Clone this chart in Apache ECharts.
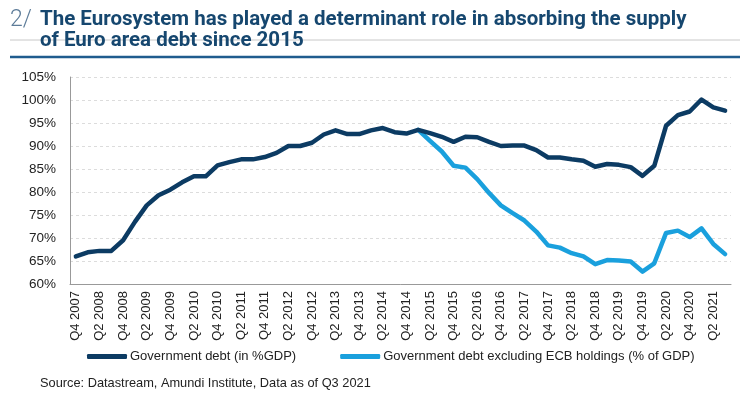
<!DOCTYPE html>
<html>
<head>
<meta charset="utf-8">
<script src="https://cdn.jsdelivr.net/npm/echarts@6/dist/echarts.min.js"></script>
<style>html,body{margin:0;padding:0;background:#fff;}#c{width:750px;height:402px;}</style>
</head>
<body>
<div id="c"></div>
<script>
var categories = ["Q4 2007","Q1 2008","Q2 2008","Q3 2008","Q4 2008","Q1 2009","Q2 2009","Q3 2009","Q4 2009","Q1 2010","Q2 2010","Q3 2010","Q4 2010","Q1 2011","Q2 2011","Q3 2011","Q4 2011","Q1 2012","Q2 2012","Q3 2012","Q4 2012","Q1 2013","Q2 2013","Q3 2013","Q4 2013","Q1 2014","Q2 2014","Q3 2014","Q4 2014","Q1 2015","Q2 2015","Q3 2015","Q4 2015","Q1 2016","Q2 2016","Q3 2016","Q4 2016","Q1 2017","Q2 2017","Q3 2017","Q4 2017","Q1 2018","Q2 2018","Q3 2018","Q4 2018","Q1 2019","Q2 2019","Q3 2019","Q4 2019","Q1 2020","Q2 2020","Q3 2020","Q4 2020","Q1 2021","Q2 2021","Q3 2021"];
var govDebt = [66.0,66.9,67.2,67.2,69.5,73.5,77.1,79.3,80.5,82.1,83.4,83.4,85.8,86.5,87.1,87.1,87.6,88.5,90.0,90.0,90.7,92.5,93.4,92.6,92.6,93.4,93.9,93.0,92.7,93.5,92.8,92.0,90.9,92.0,91.9,90.9,90.0,90.1,90.1,89.1,87.5,87.5,87.1,86.8,85.5,86.1,85.9,85.4,83.5,85.7,94.4,96.7,97.5,100.1,98.4,97.7];
var govDebtExEcb = [null,null,null,null,null,null,null,null,null,null,null,null,null,null,null,null,null,null,null,null,null,null,null,null,null,null,null,null,null,93.5,91.1,88.8,85.7,85.3,82.8,79.8,77.1,75.4,73.8,71.4,68.4,67.9,66.7,66.0,64.3,65.2,65.1,64.9,62.7,64.5,71.1,71.6,70.2,72.1,68.7,66.5];
var seriesNames = ["Government debt (in %GDP)","Government debt excluding ECB holdings (% of GDP)"];
var titleNumber = "2/";
var titleLines = ["The Eurosystem has played a determinant role in absorbing the supply","of Euro area debt since 2015"];
var sourceText = "Source: Datastream, Amundi Institute, Data as of Q3 2021";

var FONT = "'Liberation Sans',Arial,sans-serif";
var chart = echarts.init(document.getElementById('c'), null, {renderer:'canvas'});
chart.setOption({
  animation:false,
  backgroundColor:'#ffffff',
  graphic:[
    {type:'line', shape:{x1:10,y1:40,x2:740,y2:40}, style:{stroke:'#c8c8c8',lineWidth:1}, z:1},
    {type:'line', shape:{x1:10,y1:57,x2:740,y2:57}, style:{stroke:'#1f5c8e',lineWidth:2.5}, z:1},
    {type:'text', x:10, y:9, z:5, style:{text:titleNumber, font:'300 23px Roboto', fill:'#5d7c99'}},
    {type:'text', x:40, y:10, z:5, scaleX:1.025, style:{text:titleLines[0], font:'bold 20px Roboto', fill:'#16476f'}},
    {type:'text', x:40, y:31, z:5, scaleX:1.025, style:{text:titleLines[1], font:'bold 20px Roboto', fill:'#16476f'}},
    {type:'text', x:40, y:377, z:5, style:{text:sourceText, font:'12.8px '+FONT, fill:'#222'}}
  ],
  legend:{
    left:87, top:350, width:700, padding:0, itemWidth:40, itemHeight:5, itemGap:44,
    icon:'roundRect',
    textStyle:{fontFamily:FONT, fontSize:13, color:'#222', padding:[0,0,0,-2]},
    data:seriesNames
  },
  grid:{left:70, right:19, top:77, bottom:118, containLabel:false},
  xAxis:{
    type:'category', data:categories, boundaryGap:true,
    axisLine:{lineStyle:{color:'#999',width:1}},
    axisTick:{interval:3, length:5, lineStyle:{color:'#999'}},
    axisLabel:{interval:1, rotate:90, fontFamily:FONT, fontSize:13, color:'#222', margin:7}
  },
  yAxis:{
    type:'value', min:60, max:105, interval:5,
    axisLine:{show:true, lineStyle:{color:'#999'}},
    axisTick:{show:false},
    axisLabel:{formatter:'{value}%', fontFamily:FONT, fontSize:13.5, color:'#222', margin:14},
    splitLine:{lineStyle:{color:'#dcdcdc', type:[3,3], width:1}}
  },
  series:[
    {name:seriesNames[0], type:'line', data:govDebt, symbol:'none', lineStyle:{width:4.5, color:'#0c3b63', join:'round', cap:'round'}, itemStyle:{color:'#0c3b63'}, z:3},
    {name:seriesNames[1], type:'line', data:govDebtExEcb, symbol:'none', lineStyle:{width:4.5, color:'#1aa0dd', join:'round', cap:'round'}, itemStyle:{color:'#1aa0dd'}, z:2}
  ]
});
</script>
</body>
</html>
